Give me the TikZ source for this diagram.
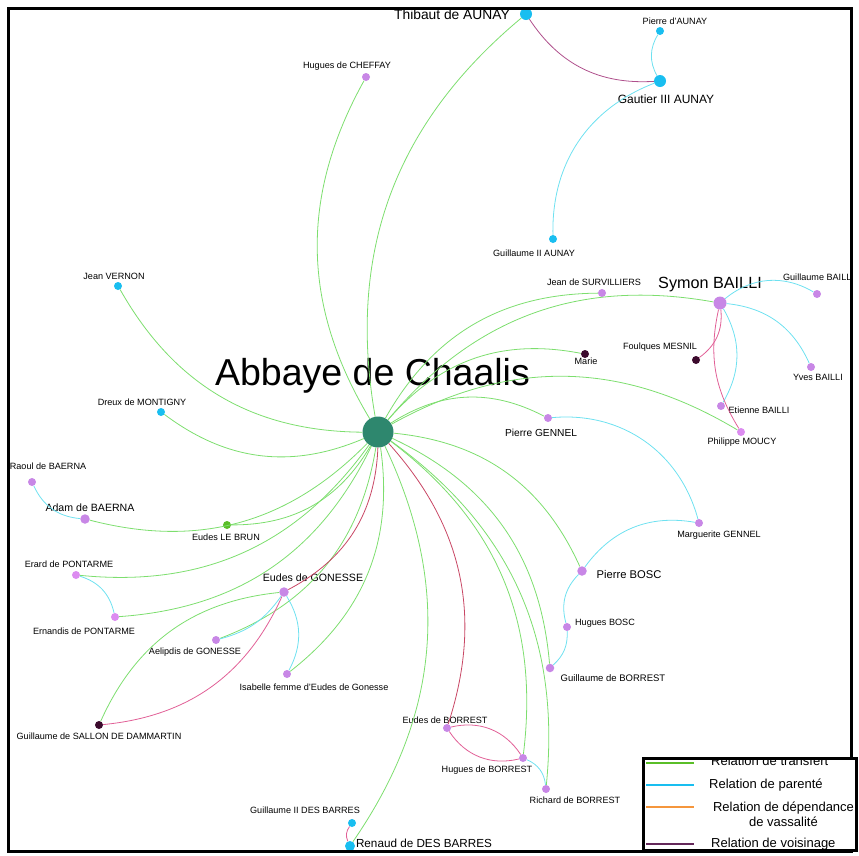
\documentclass[tikz,border=0pt]{standalone}
\usepackage{fontspec}
\setmainfont{Liberation Sans}

\definecolor{nodeblue}{RGB}{25,190,240}
\definecolor{nodelilac}{RGB}{200,135,230}
\definecolor{nodepink}{RGB}{220,140,240}
\definecolor{nodedark}{RGB}{60,10,45}
\definecolor{nodegreen}{RGB}{90,190,40}
\definecolor{abbeygreen}{RGB}{46,135,110}
\definecolor{edgegreen}{RGB}{125,222,110}
\definecolor{edgecyan}{RGB}{110,225,240}
\definecolor{edgepink}{RGB}{225,95,150}
\definecolor{edgered}{RGB}{200,70,100}
\definecolor{edgeplum}{RGB}{175,80,140}
\definecolor{legorange}{RGB}{245,150,60}
\definecolor{legplum}{RGB}{100,40,90}

\begin{document}
\begin{tikzpicture}[x=1pt, y=-1pt,
    person/.style={circle, draw=none, inner sep=0pt, minimum size=8pt},
    bluep/.style={person, fill=nodeblue},
    lilacp/.style={person, fill=nodelilac},
    darkp/.style={person, fill=nodedark},
    lbl/.style={font=\fontsize{#1}{#1}\selectfont, inner sep=0pt, anchor=base},
    transfert/.style={draw=edgegreen, line width=0.8pt},
    parente/.style={draw=edgecyan, line width=0.8pt},
    voisinage/.style={draw=edgepink, line width=0.8pt},
    legline/.style={line width=2pt}
]
\useasboundingbox (0,0) rectangle (859,855);

\begin{scope}
\clip (9.5,9.5) rectangle (850,849.5);

% Nodes
\node[person, fill=abbeygreen, minimum size=31pt] (abbaye) at (378,432) {};
\node[bluep, minimum size=12pt]  (thibaut)      at (526,14)  {};
\node[bluep]                     (pdaunay)      at (660,31)  {};
\node[bluep, minimum size=12pt]  (gautier)      at (660,81)  {};
\node[lilacp]                    (cheffay)      at (366,77)  {};
\node[bluep]                     (guilaunay)    at (553,239) {};
\node[bluep]                     (vernon)       at (118,286) {};
\node[lilacp]                    (surv)         at (602,293) {};
\node[lilacp, minimum size=13pt] (symon)        at (720,303) {};
\node[lilacp]                    (guilbailli)   at (817,294) {};
\node[darkp]                     (foulques)     at (696,360) {};
\node[darkp]                     (marie)        at (585,354) {};
\node[lilacp]                    (yves)         at (811,367) {};
\node[lilacp]                    (etienne)      at (721,406) {};
\node[person, fill=nodepink]     (moucy)        at (741,432) {};
\node[lilacp]                    (gennel)       at (548,418) {};
\node[lilacp]                    (marguerite)   at (699,523) {};
\node[bluep]                     (dreux)        at (161,412) {};
\node[lilacp]                    (raoul)        at (32,482)  {};
\node[lilacp, minimum size=9.5pt] (adam)        at (85,519)  {};
\node[person, fill=nodegreen]    (lebrun)       at (227,525) {};
\node[person, fill=nodepink]     (erard)        at (76,575)  {};
\node[lilacp, minimum size=9.5pt] (pbosc)       at (582,571) {};
\node[lilacp, minimum size=9.5pt] (gonesse)     at (284,592) {};
\node[person, fill=nodepink]     (ernandis)     at (115,617) {};
\node[lilacp]                    (hbosc)        at (567,627) {};
\node[lilacp]                    (aelipdis)     at (216,640) {};
\node[lilacp, minimum size=8.5pt] (guilborrest) at (550,668) {};
\node[lilacp]                    (isabelle)     at (287,674) {};
\node[darkp]                     (sallon)       at (99,725)  {};
\node[lilacp]                    (eborrest)     at (447,728) {};
\node[lilacp]                    (hborrest)     at (523,758) {};
\node[lilacp]                    (richard)      at (546,789) {};
\node[bluep]                     (guilbarres)   at (352,823) {};
\node[bluep, minimum size=10pt]  (renaud)       at (350,846) {};

% Labels
\node[lbl=37.5] (abbayeL)      at (372.5,385) {Abbaye de Chaalis};
\node[lbl=13.8] (thibautL)     at (452,19)    {Thibaut de AUNAY};
\node[lbl=9.1]  (pdaunayL)     at (675,24.3)  {Pierre d'AUNAY};
\node[lbl=12]   (gautierL)     at (666,103)   {Gautier III AUNAY};
\node[lbl=9.1]  (cheffayL)     at (347,68.3)  {Hugues de CHEFFAY};
\node[lbl=9.1]  (guilaunayL)   at (534,256.3) {Guillaume II AUNAY};
\node[lbl=9.1]  (vernonL)      at (114,279.3) {Jean VERNON};
\node[lbl=9.1]  (survL)        at (594,285.3) {Jean de SURVILLIERS};
\node[lbl=16.2] (symonL)       at (710,288)   {Symon BAILLI};
\node[lbl=9.1]  (guilbailliL)  at (818.5,280.3) {Guillaume BAILLI};
\node[lbl=9.1]  (foulquesL)    at (660,349.3) {Foulques MESNIL};
\node[lbl=9.1]  (marieL)       at (586,364.3) {Marie};
\node[lbl=9.1]  (yvesL)        at (818,380.3) {Yves BAILLI};
\node[lbl=9.1]  (etienneL)     at (759,413.3) {Etienne BAILLI};
\node[lbl=9.1]  (moucyL)       at (742,444.3) {Philippe MOUCY};
\node[lbl=10.2] (gennelL)      at (541,436.8) {Pierre GENNEL};
\node[lbl=9.1]  (margueriteL)  at (719,537.3) {Marguerite GENNEL};
\node[lbl=9.1]  (dreuxL)       at (142,405.3) {Dreux de MONTIGNY};
\node[lbl=9.1]  (raoulL)       at (48,469.3)  {Raoul de BAERNA};
\node[lbl=10.6] (adamL)        at (90,511.8)  {Adam de BAERNA};
\node[lbl=9.1]  (lebrunL)      at (226,540.3) {Eudes LE BRUN};
\node[lbl=9.1]  (erardL)       at (69,567.3)  {Erard de PONTARME};
\node[lbl=11.2] (pboscL)       at (629,578.8) {Pierre BOSC};
\node[lbl=10.6] (gonesseL)     at (313,581.8) {Eudes de GONESSE};
\node[lbl=9.1]  (ernandisL)    at (84,634.3)  {Ernandis de PONTARME};
\node[lbl=9.1]  (hboscL)       at (605,625.3) {Hugues BOSC};
\node[lbl=9.1]  (aelipdisL)    at (195,654.3) {Aelipdis de GONESSE};
\node[lbl=9.5]  (guilborrestL) at (613,681.3) {Guillaume de BORREST};
\node[lbl=9.1]  (isabelleL)    at (314,690.3) {Isabelle femme d'Eudes de Gonesse};
\node[lbl=9.1]  (sallonL)      at (99,739.3)  {Guillaume de SALLON DE DAMMARTIN};
\node[lbl=9.1]  (eborrestL)    at (445,723.3) {Eudes de BORREST};
\node[lbl=9.1]  (hborrestL)    at (487,772.3) {Hugues de BORREST};
\node[lbl=9.1]  (richardL)     at (575,803.3) {Richard de BORREST};
\node[lbl=9.1]  (guilbarresL)  at (305,813.3) {Guillaume II DES BARRES};
\node[lbl=11.7] (renaudL)      at (424,847.8) {Renaud de DES BARRES};

% Edges: transfert
\foreach \t in {thibaut, cheffay, vernon, dreux, surv, symon, marie, moucy, gennel,
                pbosc, guilborrest, hborrest, richard, renaud, isabelle, aelipdis,
                ernandis, erard, lebrun, adam}
    \draw[transfert] (abbaye) to[bend left=30] (\t);
\draw[transfert] (sallon) to[bend left=30] (gonesse);

% Edges: parente
\draw[parente] (pdaunay) to[bend right=30] (gautier);
\draw[parente] (gautier) to[bend right=35] (guilaunay);
\draw[parente] (symon) to[bend left=35] (guilbailli);
\draw[parente] (symon) to[bend left=30] (yves);
\draw[parente] (symon) to[bend left=30] (etienne);
\draw[parente] (gennel) to[bend left=40] (marguerite);
\draw[parente] (pbosc) to[bend left=32] (marguerite);
\draw[parente] (hbosc) to[bend left=30] (pbosc);
\draw[parente] (hbosc) to[bend left=25] (guilborrest);
\draw[parente] (raoul) to[bend right=30] (adam);
\draw[parente] (erard) to[bend left=30] (ernandis);
\draw[parente] (gonesse) to[bend left=20] (aelipdis);
\draw[parente] (gonesse) to[bend left=30] (isabelle);
\draw[parente] (hborrest) to[bend left=30] (richard);

% Edges: voisinage
\draw[voisinage, draw=edgeplum] (thibaut) to[bend right=30] (gautier);
\draw[voisinage] (symon) to[bend left=30] (foulques);
\draw[voisinage] (symon) to[bend right=22] (moucy);
\draw[voisinage, draw=edgered] (abbaye) to[bend left=30] (gonesse);
\draw[voisinage, draw=edgered] (abbaye) to[bend left=30] (eborrest);
\draw[voisinage] (gonesse) to[bend left=30] (sallon);
\draw[voisinage] (eborrest) to[bend left=35] (hborrest);
\draw[voisinage] (hborrest) to[bend left=35] (eborrest);
\draw[voisinage] (guilbarres) to[bend right=30] (renaud);
\end{scope}

% Frame
\draw[line width=3pt] (8,8) rectangle (851.5,851);

% Legend
\draw[line width=3pt, fill=white] (643,758) rectangle (856,850);
\begin{scope}
\clip (644.5,759.5) rectangle (854.5,848.5);
\coordinate (lg1a) at (646,763); \coordinate (lg1b) at (694,763);
\coordinate (lg2a) at (646,785); \coordinate (lg2b) at (694,785);
\coordinate (lg3a) at (646,807); \coordinate (lg3b) at (694,807);
\coordinate (lg4a) at (646,844); \coordinate (lg4b) at (694,844);
\draw[legline, nodegreen] (lg1a) -- (lg1b);
\draw[legline, nodeblue] (lg2a) -- (lg2b);
\draw[legline, legorange] (lg3a) -- (lg3b);
\draw[legline, legplum] (lg4a) -- (lg4b);
\node[lbl=13, anchor=base west] (legtransfert) at (711,765.7) {Relation de transfert};
\node[lbl=13, anchor=base west] (legparente) at (709,788.7) {Relation de parenté};
\node[font=\fontsize{13}{14.5}\selectfont, inner sep=0pt, align=center, anchor=north] (legvassal) at (783.5,802) {Relation de dépendance\\de vassalité};
\node[lbl=13, anchor=base west] (legvoisin) at (711,847.7) {Relation de voisinage};
\end{scope}

\end{tikzpicture}
\end{document}
